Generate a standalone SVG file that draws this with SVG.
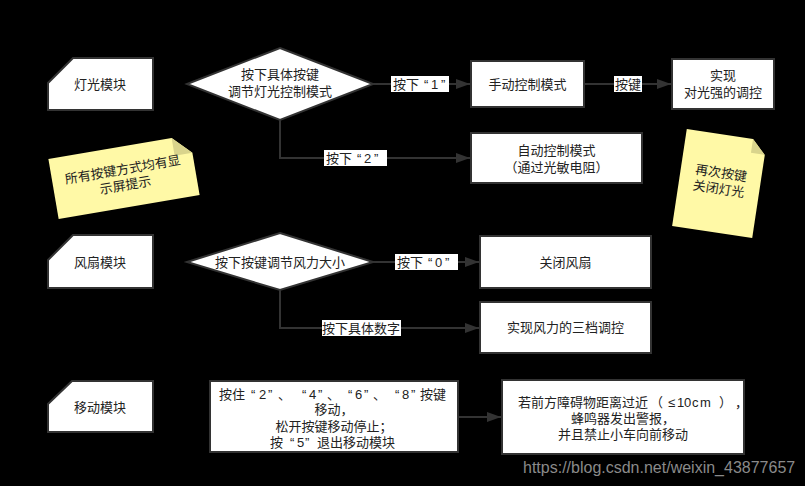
<svg xmlns="http://www.w3.org/2000/svg" width="805" height="486" viewBox="0 0 805 486">
<defs>
<marker id="arr" viewBox="0 0 14 10" refX="14" refY="5" markerWidth="14" markerHeight="10" markerUnits="userSpaceOnUse" orient="auto">
<path d="M0,0 L14,5 L0,10 Z" fill="#333"/>
</marker>
<style>
.shape{fill:#fff;stroke:#333;stroke-width:2}
.note{fill:#fff9a6;stroke:none}
.fold{fill:#d9d48c;stroke:none}
.t{font-family:"Liberation Sans","Noto Sans CJK SC",sans-serif;font-size:13px;fill:#222;text-anchor:middle}
.s{text-anchor:start}
.conn{fill:none;stroke:#333;stroke-width:2}
.lbg{fill:#fff}
.wm{font-family:"Liberation Sans",Arial,sans-serif;font-size:16px;fill:#8a8a8a}
</style>
</defs>
<rect width="805" height="486" fill="#000"/>

<g id="connectors">
<path class="conn" d="M373,84 H470" marker-end="url(#arr)"/>
<path class="conn" d="M584,84 H671" marker-end="url(#arr)"/>
<path class="conn" d="M280,120 V158 H470" marker-end="url(#arr)"/>
<path class="conn" d="M373,262 H479" marker-end="url(#arr)"/>
<path class="conn" d="M280,290 V328 H479" marker-end="url(#arr)"/>
<path class="conn" d="M458,417 H501" marker-end="url(#arr)"/>
<rect class="lbg" x="391" y="76" width="58" height="16"/>
<text class="t s" x="393 406 424 431 441" y="88.5">按下“1”</text>
<rect class="lbg" x="614" y="76" width="28" height="16"/>
<text class="t" x="628" y="88.5">按键</text>
<rect class="lbg" x="324" y="150" width="63" height="16"/>
<text class="t s" x="326 339 357 364 374" y="162.5">按下“2”</text>
<rect class="lbg" x="395" y="254" width="63" height="16"/>
<text class="t s" x="397 410 428 435 445" y="266.5">按下“0”</text>
<rect class="lbg" x="322" y="320" width="79" height="16"/>
<text class="t" x="361" y="332.5">按下具体数字</text>
</g>

<g id="light-module">
<path class="shape" d="M73,58 H153 V110 H48 V83 Z"/>
<text class="t" x="100" y="89">灯光模块</text>
</g>
<g id="light-decision">
<path class="shape" d="M280,48 L373,84 L280,120 L187,84 Z"/>
<text class="t" x="280" y="79">按下具体按键</text>
<text class="t" x="280" y="96">调节灯光控制模式</text>
</g>
<g id="manual-mode">
<rect class="shape" x="471" y="61" width="113" height="46"/>
<text class="t" x="527.5" y="88.5">手动控制模式</text>
</g>
<g id="light-control">
<rect class="shape" x="672" y="59" width="102" height="50"/>
<text class="t" x="723" y="80">实现</text>
<text class="t" x="723" y="97">对光强的调控</text>
</g>
<g id="auto-mode">
<rect class="shape" x="471" y="133" width="171" height="50"/>
<text class="t" x="556.5" y="155">自动控制模式</text>
<text class="t" x="556.5" y="172">（通过光敏电阻）</text>
</g>
<g id="note-display" transform="translate(124,177) rotate(-9.7)">
<path class="note" d="M-71.5,-30.5 H53.5 L71.5,-12.5 V30.5 H-71.5 Z"/>
<path class="fold" d="M53.5,-30.5 V-12.5 H71.5 Z"/>
<text class="t" x="0" y="-3">所有按键方式均有显</text>
<text class="t" x="0" y="13">示屏提示</text>
</g>
<g id="note-off" transform="translate(719.5,183.5) rotate(8.6)">
<path class="note" d="M-40.5,-49 H26.5 L40.5,-35 V49 H-40.5 Z"/>
<path class="fold" d="M26.5,-49 V-35 H40.5 Z"/>
<text class="t" x="0" y="-6">再次按键</text>
<text class="t" x="0" y="10">关闭灯光</text>
</g>

<g id="fan-module">
<path class="shape" d="M73,235 H153 V288 H48 V260 Z"/>
<text class="t" x="100" y="266.5">风扇模块</text>
</g>
<g id="fan-decision">
<path class="shape" d="M280,233 L373,262 L280,290 L187,262 Z"/>
<text class="t" x="280" y="266.5">按下按键调节风力大小</text>
</g>
<g id="fan-off">
<rect class="shape" x="480" y="236" width="171" height="52"/>
<text class="t" x="565.5" y="266.5">关闭风扇</text>
</g>
<g id="fan-three">
<rect class="shape" x="480" y="302" width="171" height="51"/>
<text class="t" x="565.5" y="332">实现风力的三档调控</text>
</g>

<g id="move-module">
<path class="shape" d="M72,381 H153 V432 H48 V404 Z"/>
<text class="t" x="100" y="411.5">移动模块</text>
</g>
<g id="move-keys">
<rect class="shape" x="210" y="381" width="248" height="71"/>
<text class="t s" x="219 232 251 259 268 278 302 309 318 327 348 355 364 373 395 402 411 420 433" y="398.5">按住“2”、“4”、“6”、“8”按键</text>
<text class="t" x="334" y="414">移动，</text>
<text class="t" x="334" y="430.5">松开按键移动停止；</text>
<text class="t s" x="270 290 297 305 317 330 343 356 369 382" y="446.5">按“5”退出移动模块</text>
</g>
<g id="obstacle">
<rect class="shape" x="502" y="380" width="242" height="74"/>
<text class="t s" x="518 531 544 557 570 583 596 609 622 635 650 668 677 684 692 700 719 735" y="406.5">若前方障碍物距离过近（≤10cm），</text>
<text class="t" x="623" y="422.5">蜂鸣器发出警报，</text>
<text class="t" x="623" y="438.5">并且禁止小车向前移动</text>
</g>
<text class="wm" x="523" y="473">https://blog.csdn.net/weixin_43877657</text>
</svg>
